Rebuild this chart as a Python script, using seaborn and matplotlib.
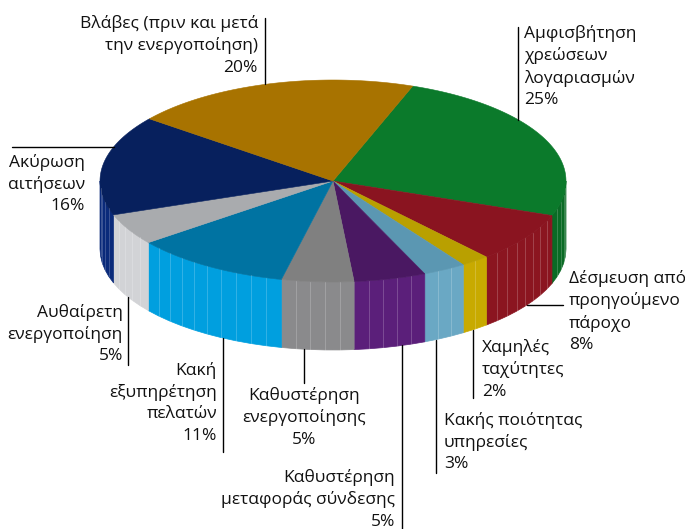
import numpy as np
import matplotlib.pyplot as plt
import seaborn as sns
from matplotlib.patches import Polygon

# Slices in clockwise order, starting at the top-right (green)
categories = [
    "Αμφισβήτηση\nχρεώσεων\nλογαριασμών",
    "Δέσμευση από\nπροηγούμενο\nπάροχο",
    "Χαμηλές\nταχύτητες",
    "Κακής ποιότητας\nυπηρεσίες",
    "Καθυστέρηση\nμεταφοράς σύνδεσης",
    "Καθυστέρηση\nενεργοποίησης",
    "Κακή\nεξυπηρέτηση\nπελατών",
    "Αυθαίρετη\nενεργοποίηση",
    "Ακύρωση\nαιτήσεων",
    "Βλάβες (πριν και μετά\nτην ενεργοποίηση)",
]
shares = [25, 8, 2, 3, 5, 5, 11, 5, 16, 20]

top_colors = ["#0B7A2B", "#8A1420", "#B9A000", "#5B97B2", "#4A1862",
              "#808080", "#0073A2", "#A9ABAE", "#07205D", "#A87300"]
side_colors = ["#0A6B25", "#8B1520", "#C8AA00", "#6AA8C4", "#5B1F7A",
               "#8A8A8C", "#009FDF", "#D2D3D6", "#0A2A7A", "#A87300"]

# label layout: (x, cap-top y, alignment, leader kind, leader x / y, leader end)
label_layout = [
    (524, 28, "left", "top", 518, 27),
    (569, 273, "left", "hline", 305, 563),
    (482, 342, "left", "bottom", 473, 398),
    (444, 415, "left", "bottom", 436, 473),
    (395, 472, "right", "bottom", 402, 529),
    (304, 390, "center", "bottom", 304, 383),
    (217, 365, "right", "bottom", 223, 452),
    (123, 307, "right", "bottom", 128, 365),
    (85, 157, "right", "hline_left", 147, 12),
    (258, 18, "right", "top", 265, 18),
]

sns.set_theme(style="white")
plt.rcParams['font.family'] = ['Open Sans', 'DejaVu Sans']

fig = plt.figure(figsize=(6.85, 5.29), dpi=100)
ax = fig.add_axes([0, 0, 1, 1])
ax.set_xlim(0, 685)
ax.set_ylim(529, 0)
ax.axis('off')

cx, cy, rx, ry, depth = 333, 181, 233, 101, 68
start_angle = 70


def ell(t):
    t = np.radians(t)
    return cx + rx * np.cos(t), cy - ry * np.sin(t)


def rim_top(x):
    return cy - ry * np.sqrt(max(0.0, 1 - ((x - cx) / rx) ** 2))


def rim_bottom(x):
    return cy + depth + ry * np.sqrt(max(0.0, 1 - ((x - cx) / rx) ** 2))


def rim_bottom_x(y, side):
    v = (y - cy - depth) / ry
    return cx + side * rx * np.sqrt(max(0.0, 1 - v ** 2))


fractions = np.array(shares) / sum(shares)
ends = start_angle - 360 * np.cumsum(fractions)
starts = ends + 360 * fractions

# side walls (front half only: angles between -180 and 0)
for t0, t1, col in zip(starts, ends, side_colors):
    a, b = max(t1, -180), min(t0, 0)
    if a >= b:
        continue
    n = max(2, int(np.ceil((b - a) / 4.0)) + 1)
    ts = np.linspace(a, b, n)
    xs, ys = ell(ts)
    poly = np.column_stack([np.r_[xs, xs[::-1]], np.r_[ys, ys[::-1] + depth]])
    ax.add_patch(Polygon(poly, closed=True, facecolor=col, edgecolor=col, lw=0.5))
    for x, y in zip(xs[1:-1], ys[1:-1]):
        ax.plot([x, x], [y, y + depth], color="white", alpha=0.2, lw=0.7)

# top face
for t0, t1, col in zip(starts, ends, top_colors):
    ts = np.linspace(t1, t0, max(2, int(abs(t0 - t1)) + 1))
    xs, ys = ell(ts)
    poly = np.column_stack([np.r_[cx, xs], np.r_[cy, ys]])
    ax.add_patch(Polygon(poly, closed=True, facecolor=col, edgecolor=col, lw=0.4))

# labels and leader lines
fs = 12.5
for cat, share, (lx, ly, ha, kind, p, q) in zip(categories, shares, label_layout):
    ax.text(lx, ly - 3, f"{cat}\n{share}%", ha=ha, va="top", fontsize=fs,
            linespacing=1.42, color="#111111", multialignment=ha)
    if kind == "top":
        ax.plot([p, p], [q, rim_top(p)], color="black", lw=1)
    elif kind == "bottom":
        ax.plot([p, p], [rim_bottom(p), q], color="black", lw=1)
    elif kind == "hline":
        ax.plot([rim_bottom_x(p, 1), q], [p, p], color="black", lw=1)
    elif kind == "hline_left":
        xr = cx - rx * np.sqrt(max(0.0, 1 - ((cy - p) / ry) ** 2))
        ax.plot([q, xr], [p, p], color="black", lw=1)

fig.savefig("out.png", dpi=100)
